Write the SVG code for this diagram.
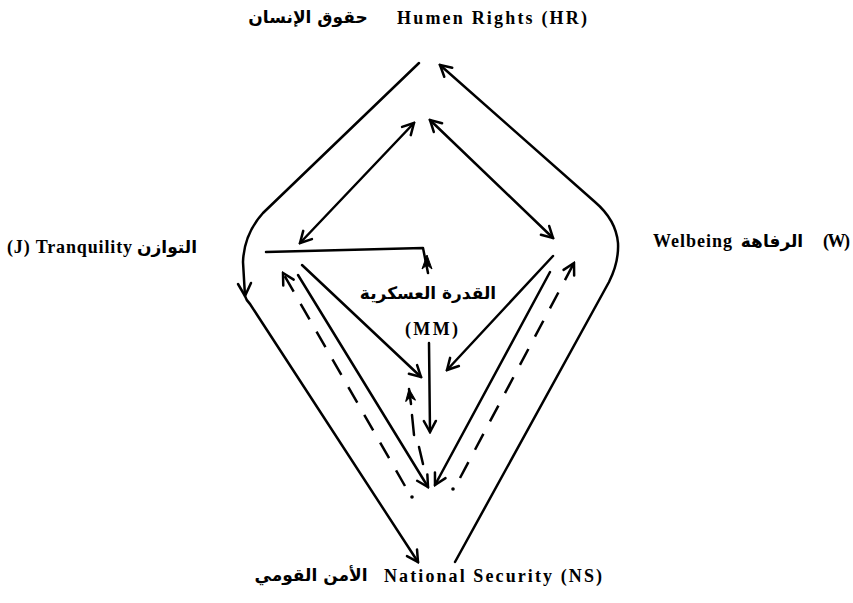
<svg xmlns="http://www.w3.org/2000/svg" width="853" height="603" viewBox="0 0 853 603">
<style>
.lat{font-family:"Liberation Serif","Times New Roman",serif;font-weight:bold;font-size:18px;fill:#000}
.ar{font-family:"DejaVu Sans","Noto Sans",sans-serif;font-weight:bold;font-size:17px;fill:#000}
.ln{fill:none;stroke:#000;stroke-width:2.5;stroke-linecap:round;stroke-linejoin:round}
.da{stroke-dasharray:18 14;stroke-linecap:butt}
</style>
<defs>
<marker id="a" viewBox="-14 -8 16 16" refX="0" refY="0" markerWidth="16" markerHeight="16" markerUnits="userSpaceOnUse" orient="auto-start-reverse">
<path d="M -11 -6 L 0 0 L -11 6" fill="none" stroke="#000" stroke-width="2.5" stroke-linecap="round" stroke-linejoin="miter"/>
</marker>
<marker id="f" viewBox="-14 -8 16 16" refX="0" refY="0" markerWidth="16" markerHeight="16" markerUnits="userSpaceOnUse" orient="auto">
<path d="M -12 -5 L 0 0 L -12 5 L -8 0 Z" fill="#000" stroke="#000" stroke-width="1"/>
</marker>
</defs>
<rect width="853" height="603" fill="#fff"/>
<g id="HR">
<text class="ar" x="308" y="23" text-anchor="middle">حقوق الإنسان</text>
<text class="lat" x="397" y="24" textLength="190" lengthAdjust="spacing">Humen Rights (HR)</text>
</g>
<g id="J">
<text class="lat" x="7" y="253" textLength="125" lengthAdjust="spacing">(J) Tranquility</text>
<text class="ar" x="167" y="253" text-anchor="middle">التوازن</text>
</g>
<g id="W">
<text class="lat" x="653" y="247" textLength="79" lengthAdjust="spacing">Welbeing</text>
<text class="ar" x="772" y="247" text-anchor="middle">الرفاهة</text>
<text class="lat" x="823" y="247" textLength="27" lengthAdjust="spacing">(W)</text>
</g>
<g id="MM">
<text class="ar" x="428" y="299" text-anchor="middle">القدرة العسكرية</text>
<text class="lat" x="405" y="335" textLength="53" lengthAdjust="spacing">(MM)</text>
</g>
<g id="NS">
<text class="ar" x="311" y="581" text-anchor="middle">الأمن القومي</text>
<text class="lat" x="384" y="582" textLength="218" lengthAdjust="spacing">National Security (NS)</text>
</g>
<g id="connectors">
<path class="ln" d="M 419 63 L 263 213 Q 244 234 243 262 L 245 296 Q 246 300 250 304 L 418 562" marker-end="url(#a)"/>
<path class="ln" d="M 238 284 L 245 296 L 251 283"/>
<path class="ln" d="M 455 562 L 609 282 Q 619 262 618 243 Q 616 220 595 202 L 440 65" marker-end="url(#a)"/>
<path class="ln" d="M 300 243 L 414 123" marker-start="url(#a)" marker-end="url(#a)"/>
<path class="ln" d="M 430 120 L 553 238" marker-start="url(#a)" marker-end="url(#a)"/>
<path class="ln" d="M 266 252 L 423 248 L 428 273"/>
<path d="M 422 269 L 427 255 L 432 269 L 427 265 Z" fill="#000" stroke="#000" stroke-width="1"/>
<path class="ln" d="M 302 265 L 421 377" marker-end="url(#a)"/>
<path class="ln" d="M 298 275 L 428 487" marker-end="url(#a)"/>
<path class="ln da" d="M 405 486 L 283 273" marker-end="url(#a)"/>
<circle cx="412" cy="497" r="1.8" fill="#000"/>
<path class="ln" d="M 553 256 L 447 370" marker-end="url(#a)"/>
<path class="ln" d="M 550 272 L 435 485" marker-end="url(#a)"/>
<path class="ln da" d="M 460 478 L 574 263" marker-end="url(#a)"/>
<circle cx="453" cy="489" r="1.8" fill="#000"/>
<path class="ln" d="M 429 343 L 430 432" marker-end="url(#a)"/>
<path class="ln" d="M 423 464 L 419 447 M 414 435 L 412 415 M 411 404 L 409 389" marker-end="url(#f)"/>
</g>
</svg>
